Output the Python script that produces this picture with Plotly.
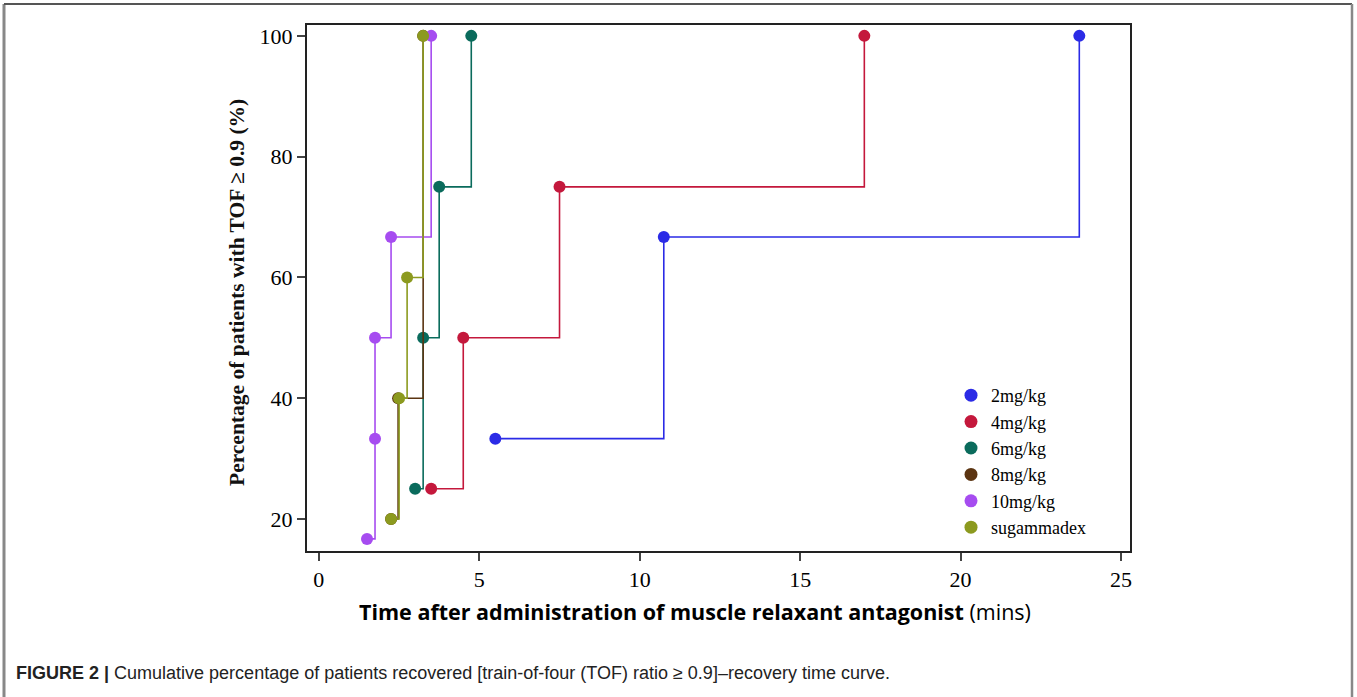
import plotly.graph_objects as go

# ---- data ----
series_names = ["2mg/kg", "4mg/kg", "6mg/kg", "8mg/kg", "10mg/kg", "sugammadex"]
time_2 = [5.5, 10.75, 23.7]
pct_2 = [33.3, 66.7, 100]
time_4 = [3.5, 4.5, 7.5, 17.0]
pct_4 = [25, 50, 75, 100]
time_6 = [3.0, 3.25, 3.75, 4.75]
pct_6 = [25, 50, 75, 100]
time_8 = [2.25, 2.47, 3.25]
pct_8 = [20, 40, 100]
time_10 = [1.5, 1.75, 1.75, 2.25, 3.5]
pct_10 = [16.7, 33.3, 50, 66.7, 100]
time_s = [2.25, 2.5, 2.75, 3.25]
pct_s = [20, 40, 60, 100]
x_ticks = [0, 5, 10, 15, 20, 25]
y_ticks = [20, 40, 60, 80, 100]

colors = ["#2b2be6", "#c4183c", "#0a6b5c", "#5b3411", "#a64cf0", "#8c9a1f"]
xs = [time_2, time_4, time_6, time_8, time_10, time_s]
ys = [pct_2, pct_4, pct_6, pct_8, pct_10, pct_s]

W, H = 1357, 697
L, R, T, B = 307, 1130, 25, 551


def px(x):
    return (x - L) / (R - L)


def py(y):
    return (B - y) / (B - T)


fig = go.Figure()
for name, x, y, c in zip(series_names, xs, ys, colors):
    fig.add_trace(go.Scatter(
        x=x, y=y, mode="lines+markers", line=dict(shape="hv", color=c, width=1.6),
        marker=dict(size=12, color=c), showlegend=False, name=name))
for name, c in zip(series_names, colors):
    fig.add_trace(go.Scatter(
        x=[None], y=[None], mode="markers", marker=dict(size=13, color=c),
        name=name, showlegend=True))

serif = "Liberation Serif"
fig.update_layout(
    width=W, height=H,
    margin=dict(l=L, r=W - R, t=T, b=H - B),
    paper_bgcolor="white", plot_bgcolor="white",
    font=dict(family=serif, color="black"),
    legend=dict(x=px(951), y=py(377), xanchor="left", yanchor="top",
                font=dict(family=serif, size=18, color="black"),
                bgcolor="rgba(0,0,0,0)", itemwidth=30, tracegroupgap=0),
)
fig.update_xaxes(range=[-0.37, 25.28], tickvals=x_ticks, ticks="outside", ticklen=8,
                 tickwidth=1.5, showline=True, linecolor="#222", linewidth=2, mirror=True,
                 showgrid=False, zeroline=False, tickfont=dict(family=serif, size=22))
fig.update_yaxes(range=[14.7, 101.8], tickvals=y_ticks, ticks="outside", ticklen=8,
                 tickwidth=1.5, showline=True, linecolor="#222", linewidth=2, mirror=True,
                 showgrid=False, zeroline=False, tickfont=dict(family=serif, size=22))

fig.add_annotation(x=px(695), y=py(611), xref="paper", yref="paper", showarrow=False,
                   xanchor="center", yanchor="middle",
                   text="<b>Time after administration of muscle relaxant antagonist</b> (mins)",
                   font=dict(family="Open Sans", size=21.5, color="black"))
fig.add_annotation(x=px(237), y=py(293), xref="paper", yref="paper", showarrow=False,
                   xanchor="center", yanchor="middle", textangle=-90,
                   text="<b>Percentage of patients with TOF \u2265 0.9 (%)</b>",
                   font=dict(family=serif, size=21.5, color="#111"))
fig.add_annotation(x=px(14), y=py(673), xref="paper", yref="paper", showarrow=False,
                   xanchor="left", yanchor="middle",
                   text="<b>FIGURE 2 |</b> Cumulative percentage of patients recovered "
                        "[train-of-four (TOF) ratio \u2265 0.9]\u2013recovery time curve.",
                   font=dict(family="Liberation Sans", size=18, color="#222"))

# outer figure frame
fig.add_shape(type="line", xref="paper", yref="paper", x0=px(4), x1=px(4), y0=py(4), y1=py(700),
              line=dict(color="#888", width=3))
fig.add_shape(type="line", xref="paper", yref="paper", x0=px(4), x1=px(1352), y0=py(4), y1=py(4),
              line=dict(color="#555", width=2))
fig.add_shape(type="line", xref="paper", yref="paper", x0=px(1352), x1=px(1352), y0=py(4), y1=py(700),
              line=dict(color="#888", width=2.5))

fig.write_html("out.html", config={"displayModeBar": False},
               post_script="document.body.style.margin='0px';")
